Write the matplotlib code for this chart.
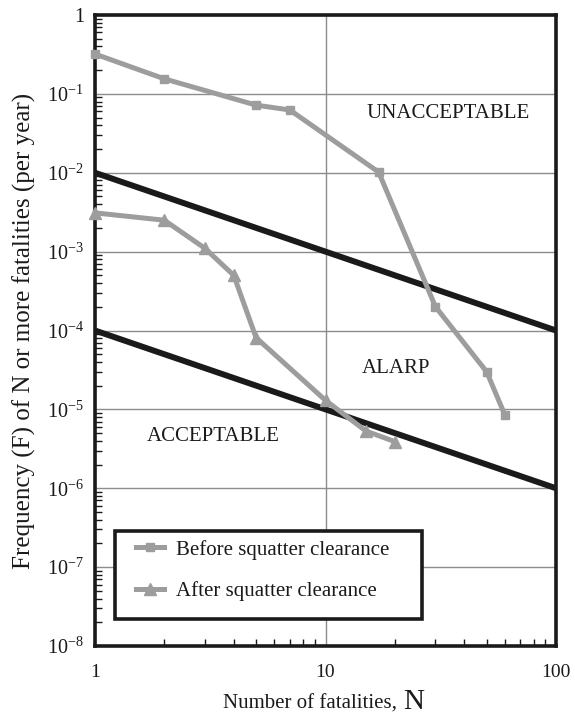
import matplotlib
matplotlib.use("Agg")
import matplotlib.pyplot as plt
from matplotlib.lines import Line2D
from matplotlib.patches import Rectangle
import numpy as np

plt.rcParams['font.family'] = ['Liberation Serif', 'DejaVu Serif']
plt.rcParams['mathtext.fontset'] = 'custom'
plt.rcParams['mathtext.rm'] = 'Liberation Serif'
plt.rcParams['mathtext.it'] = 'Liberation Serif:italic'

# F-N curve data
before_n = [1, 2, 5, 7, 17, 30, 50, 60]
before_f = [0.32, 0.155, 0.072, 0.0625, 0.0102, 2.0e-4, 3.0e-5, 8.5e-6]

after_n = [1, 2, 3, 4, 5, 10, 15, 20]
after_f = [3.1e-3, 2.5e-3, 1.1e-3, 5.0e-4, 8.1e-5, 1.3e-5, 5.3e-6, 3.9e-6]

# Tolerability criterion lines (N, F)
upper_n = [1, 100]
upper_f = [1e-2, 1e-4]
lower_n = [1, 100]
lower_f = [1e-4, 1e-6]

region_labels = ["UNACCEPTABLE", "ALARP", "ACCEPTABLE"]
region_pos = [(34, 0.0556), (20.2, 3.26e-5), (3.25, 4.5e-6)]

y_ticks = [1e-8, 1e-7, 1e-6, 1e-5, 1e-4, 1e-3, 1e-2, 1e-1, 1]
y_ticklabels = ["10$^{-8}$", "10$^{-7}$", "10$^{-6}$", "10$^{-5}$", "10$^{-4}$",
                "10$^{-3}$", "10$^{-2}$", "10$^{-1}$", "1"]
x_ticks = [1, 10, 100]
x_ticklabels = ["1", "10", "100"]

series_labels = ["Before squatter clearance", "After squatter clearance"]

series_color = '#9d9d9d'
ink = '#1a1a1a'

W, H = 575, 716
fig = plt.figure(figsize=(W / 100, H / 100), dpi=100)
ax = fig.add_axes([95 / W, 1 - 646 / H, 461 / W, 631 / H])
ax.set_xscale('log')
ax.set_yscale('log')
ax.set_xlim(1, 100)
ax.set_ylim(1e-8, 1)

ax.grid(True, which='major', color='#8c8c8c', linewidth=1.0)
ax.set_axisbelow(True)

ax.plot(upper_n, upper_f, color=ink, linewidth=4.3, solid_capstyle='butt', zorder=3)
ax.plot(lower_n, lower_f, color=ink, linewidth=4.3, solid_capstyle='butt', zorder=3)

ax.plot(before_n, before_f, color=series_color, linewidth=3.6, marker='s',
        markersize=6, markerfacecolor=series_color, markeredgecolor=series_color,
        clip_on=False, zorder=4)
ax.plot(after_n, after_f, color=series_color, linewidth=3.6, marker='^',
        markersize=8, markerfacecolor=series_color, markeredgecolor=series_color,
        clip_on=False, zorder=4)

for text, (xx, yy) in zip(region_labels, region_pos):
    ax.text(xx, yy, text, ha='center', va='center', fontsize=15, color=ink)

for s in ax.spines.values():
    s.set_linewidth(2.6)
    s.set_color(ink)

ax.set_yticks(y_ticks)
ax.set_yticklabels(y_ticklabels, fontsize=14.5)
ax.set_xticks(x_ticks)
ax.set_xticklabels(x_ticklabels, fontsize=14)
ax.yaxis.set_minor_locator(matplotlib.ticker.LogLocator(base=10, subs=np.arange(2, 10), numticks=20))
ax.xaxis.set_minor_locator(matplotlib.ticker.LogLocator(base=10, subs=np.arange(2, 10), numticks=20))
ax.yaxis.set_minor_formatter(matplotlib.ticker.NullFormatter())
ax.xaxis.set_minor_formatter(matplotlib.ticker.NullFormatter())
ax.tick_params(axis='both', which='minor', direction='in', length=5, width=1.0, color=ink)
ax.tick_params(axis='y', which='major', length=0, pad=8, colors=ink)
ax.tick_params(axis='x', which='major', length=0, pad=13, colors=ink)

ax.set_ylabel("Frequency (F) of N or more fatalities (per year)", fontsize=18,
              labelpad=8, color=ink)

# x-axis title with an enlarged N
fig.text(223 / W, 1 - 709 / H, "Number of fatalities,", fontsize=15,
         ha='left', va='baseline', color=ink)
fig.text(403 / W, 1 - 709 / H, "N", fontsize=21, ha='left', va='baseline', color=ink)

# Legend box
ax.add_patch(Rectangle(((115 - 95) / 461, (646 - 619) / 631),
                       (422 - 115) / 461, (619 - 531) / 631,
                       transform=ax.transAxes, facecolor='white', edgecolor=ink,
                       linewidth=2.6, zorder=5, clip_on=False))
handles = [
    Line2D([0], [0], color=series_color, linewidth=3.6, marker='s', markersize=6,
           markerfacecolor=series_color, markeredgecolor=series_color),
    Line2D([0], [0], color=series_color, linewidth=3.6, marker='^', markersize=8,
           markerfacecolor=series_color, markeredgecolor=series_color),
]
leg = ax.legend(handles, series_labels,
                loc='center left', bbox_to_anchor=((136 - 95) / 461, (646 - 570.5) / 631),
                fontsize=15, frameon=False, borderaxespad=0, borderpad=0,
                handlelength=1.35, handletextpad=0.55, labelspacing=1.05)
leg.set_zorder(6)
for t in leg.get_texts():
    t.set_color(ink)

fig.savefig("out.png", dpi=100)
